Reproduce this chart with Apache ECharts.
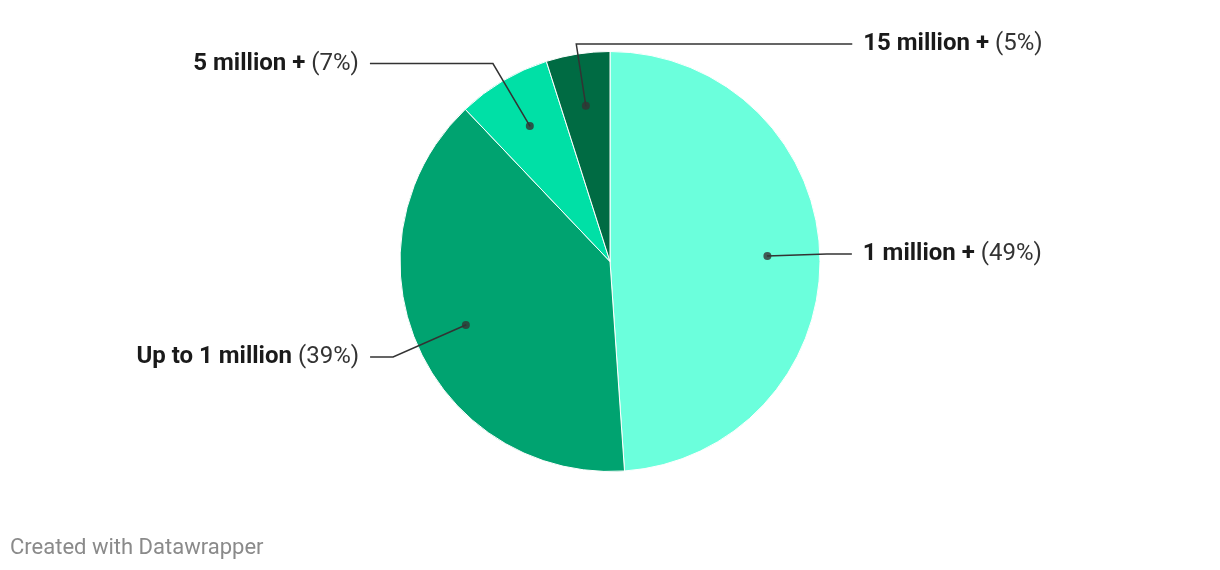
<!DOCTYPE html>
<html>
<head>
<meta charset="utf-8">
<script src="https://cdn.jsdelivr.net/npm/echarts@6/dist/echarts.min.js"></script>
<style>
html,body{margin:0;padding:0;background:#fff;}
#chart{width:1220px;height:570px;}
</style>
</head>
<body>
<div id="chart"></div>
<script>
// ---- data ----
const categories = ['1 million +', 'Up to 1 million', '5 million +', '15 million +'];
const shares = [48.9, 39.0, 7.2, 4.9];          // percent
const sliceColors = ['#6bffdc', '#00a370', '#00e0a6', '#006b43'];
// label leader-line layout (length, length2) per slice; negative length2 = line runs to the right
const leaderLength = [60, 80, 73, 63];
const leaderLength2 = [25, 23, 123, -276];
const labelOnRight = [false, false, false, true]; // force text to the right of the line end

const center = [610, 261.5];
const R = 210;
const dotR = 157;
const labelGap = 11;

const total = shares.reduce((a, b) => a + b, 0);
let cum = 0;
const dotData = shares.map(v => { const mid = cum + v / 2; cum += v; return [0.75, mid / total * 100]; });

const chart = echarts.init(document.getElementById('chart'));
chart.setOption({
  animation: false,
  backgroundColor: '#ffffff',
  textStyle: { fontFamily: 'Roboto' },
  title: {
    text: 'Created with Datawrapper',
    left: 5, top: 532,
    textStyle: { fontFamily: 'Roboto', fontSize: 22, fontWeight: 'normal', color: '#8a8a8a' }
  },
  polar: { center: center, radius: R },
  angleAxis: { type: 'value', min: 0, max: 100, startAngle: 90, clockwise: true, show: false },
  radiusAxis: { type: 'value', min: 0, max: 1, show: false },
  series: [
    {
      type: 'pie',
      center: center,
      radius: R,
      startAngle: 90,
      clockwise: true,
      silent: true,
      z: 1,
      label: { show: false },
      labelLine: { show: false },
      itemStyle: { borderColor: '#ffffff', borderWidth: 1 },
      data: categories.map((c, i) => ({ name: c, value: shares[i], itemStyle: { color: sliceColors[i] } }))
    },
    {
      type: 'pie',
      center: center,
      radius: dotR,
      startAngle: 90,
      clockwise: true,
      silent: true,
      z: 3,
      avoidLabelOverlap: false,
      itemStyle: { color: 'rgba(0,0,0,0)', borderWidth: 0 },
      label: {
        show: true,
        position: 'outside',
        distanceToLabelLine: labelGap,
        formatter: function (p) { return '{b|' + p.name + '}{p|(' + Math.round(p.value) + '%)}'; },
        rich: {
          b: { fontFamily: 'Roboto', fontSize: 24, fontWeight: 'bold', color: '#1a1a1a' },
          p: { fontFamily: 'Roboto', fontSize: 24, fontWeight: 'normal', color: '#333333', padding: [0, 0, 0, 6] }
        }
      },
      labelLine: {
        show: true,
        minTurnAngle: 0,
        maxSurfaceAngle: 180,
        lineStyle: { color: '#333333', width: 1.5 }
      },
      labelLayout: function (params) {
        if (labelOnRight[params.dataIndex] && params.labelLinePoints) {
          const pts = params.labelLinePoints;
          return { x: pts[2][0] + labelGap, align: 'left', labelLinePoints: pts };
        }
        return {};
      },
      data: categories.map((c, i) => ({
        name: c, value: shares[i],
        labelLine: { length: leaderLength[i], length2: leaderLength2[i] }
      }))
    },
    {
      type: 'scatter',
      coordinateSystem: 'polar',
      symbol: 'circle',
      symbolSize: 8,
      silent: true,
      z: 4,
      itemStyle: { color: '#333333' },
      data: dotData
    }
  ]
});
</script>
</body>
</html>
